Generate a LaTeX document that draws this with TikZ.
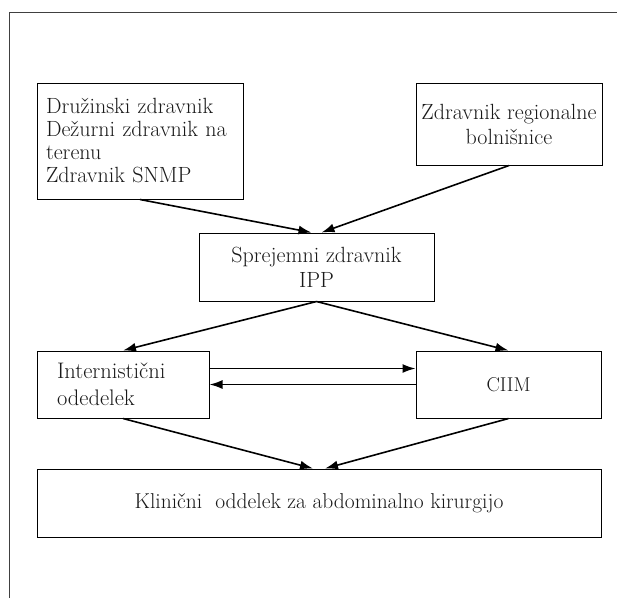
\documentclass[tikz,border=0pt]{standalone}
\usepackage{fontspec}
\usetikzlibrary{arrows.meta}
\begin{document}
\begin{tikzpicture}[x=1pt,y=-1pt,
        box/.style={draw,rectangle,line width=1pt,inner sep=0pt,text=black!90,
            font=\fontsize{22}{25}\selectfont},
        flow/.style={-{Latex[length=13pt,width=9pt]},line width=1.6pt}]
        \useasboundingbox (0,0) rectangle (617,598);
        %% frame
        \draw[line width=0.8pt,black!75] (9,598) |- (617,12);
        %% top row
        \node[box,minimum width=206pt,minimum height=116pt,text width=188pt,align=left,
            font=\fontsize{22}{23}\selectfont]
            (druzinski) at (140,141) {Družinski zdravnik\\Dežurni zdravnik na\\terenu\\Zdravnik SNMP};
        \node[box,minimum width=186pt,minimum height=82pt,align=center]
            (regionalni) at (509,124) {Zdravnik regionalne\\bolnišnice};
        %% admission
        \node[box,minimum width=235pt,minimum height=68pt,align=center]
            (sprejemni) at (316.5,267) {Sprejemni zdravnik\\IPP};
        %% wards
        \node[box,minimum width=172pt,minimum height=67pt,text width=132pt,align=left,
            font=\fontsize{22.5}{27}\selectfont]
            (internisticni) at (123,384.5) {Internistični\\odedelek};
        \node[box,minimum width=185pt,minimum height=67pt,font=\fontsize{20}{24}\selectfont]
            (ciim) at (508.5,384.5) {CIIM};
        \node[box,minimum width=564pt,minimum height=68pt,font=\fontsize{21.5}{25}\selectfont]
            (klinicni) at (319,503) {Klinični\ \ oddelek za abdominalno kirurgijo};
        %% arrows
        \draw[flow] (druzinski.south) -- ([xshift=-5pt]sprejemni.north);
        \draw[flow] (regionalni.south) -- ([xshift=5pt]sprejemni.north);
        \draw[flow] (sprejemni.south) -- (internisticni.north);
        \draw[flow] (sprejemni.south) -- (ciim.north);
        \draw[flow] ([yshift=16pt]internisticni.east) -- ([yshift=16pt]ciim.west);
        \draw[flow] (ciim.west) -- (internisticni.east);
        \draw[flow] (internisticni.south) -- ([xshift=-6pt]klinicni.north);
        \draw[flow] (ciim.south) -- ([xshift=6pt]klinicni.north);
    \end{tikzpicture}
\end{document}
